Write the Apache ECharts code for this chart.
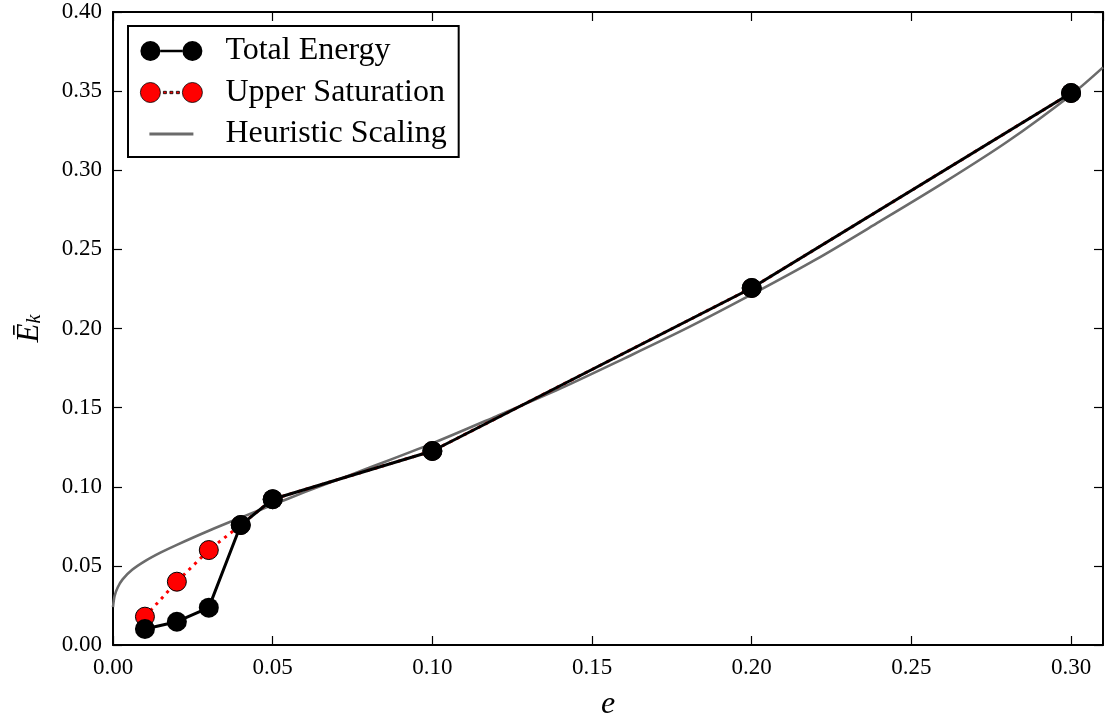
<!DOCTYPE html>
<html>
<head>
<meta charset="utf-8">
<script src="https://cdn.jsdelivr.net/npm/echarts@6/dist/echarts.min.js"></script>
<style>
html,body{margin:0;padding:0;background:#fff;}
#chart{width:1105px;height:720px;}
</style>
</head>
<body>
<div id="chart"></div>
<script>
// ---- data ----
var eValues = [0.01, 0.02, 0.03, 0.04, 0.05, 0.10, 0.20, 0.30];
var totalEnergy = [0.0101, 0.0147, 0.0236, 0.0758, 0.0921, 0.1226, 0.2256, 0.3488];
var upperSaturation = [0.0179, 0.0400, 0.0600, 0.0758, 0.0921, 0.1226, 0.2256, 0.3488];
var heurE = [0, 0.0005, 0.0015, 0.003, 0.006, 0.01, 0.015, 0.02, 0.03, 0.04, 0.05, 0.06, 0.07, 0.08, 0.10, 0.12, 0.14, 0.16, 0.18, 0.20, 0.22, 0.24, 0.26, 0.28, 0.30, 0.31];
var heurVal = [0.024, 0.031, 0.0365, 0.0415, 0.0475, 0.0530, 0.0585, 0.0633, 0.0722, 0.0805, 0.0886, 0.0966, 0.1042, 0.1118, 0.1274, 0.1445, 0.162, 0.181, 0.2005, 0.2215, 0.2435, 0.2675, 0.2920, 0.3180, 0.3476, 0.3650];
var seriesNames = ['Total Energy', 'Upper Saturation', 'Heuristic Scaling'];
var xTicks = {min: 0, max: 0.31, interval: 0.05};
var yTicks = {min: 0, max: 0.40, interval: 0.05};

function pairs(xs, ys) { return xs.map(function (x, i) { return [x, ys[i]]; }); }

var FONT = '"Liberation Serif", "DejaVu Serif", serif';
var circ = function (cx) { return 'M' + (cx - 10) + ',10 a10,10 0 1,0 20,0 a10,10 0 1,0 -20,0 '; };
var iconTotal = 'path://' + circ(10) + circ(52) + 'M20,8.7 L42,8.7 L42,11.3 L20,11.3 Z';
var iconUpper = 'path://' + circ(10) + circ(52) + 'M23,8.8 L26,8.8 L26,11.2 L23,11.2 Z M29.5,8.8 L32.5,8.8 L32.5,11.2 L29.5,11.2 Z M36,8.8 L39,8.8 L39,11.2 L36,11.2 Z';
var iconHeur = 'path://M0,0 M9,8.6 L53,8.6 L53,11.4 L9,11.4 Z M62,20';

var chart = echarts.init(document.getElementById('chart'), null, {renderer: 'canvas'});
var axisLineStyle = {color: '#000', width: 2};
var tickStyle = {show: true, inside: false, length: -9, lineStyle: {color: '#000', width: 1.2}};
var option = {
  animation: false,
  backgroundColor: '#fff',
  grid: {left: 113, right: 2, top: 12, bottom: 75, containLabel: false, outerBoundsMode: 'none'},
  legend: {
    orient: 'vertical',
    left: 128, top: 26,
    padding: [9, 12, 7, 12],
    itemGap: 9.5,
    itemWidth: 62, itemHeight: 20,
    borderColor: '#000', borderWidth: 2, borderRadius: 0,
    backgroundColor: '#fff',
    textStyle: {fontFamily: FONT, fontSize: 32, color: '#000', lineHeight: 32, padding: [0, 0, 0, 18]},
    data: [
      {name: seriesNames[0], icon: iconTotal, itemStyle: {color: '#000', borderWidth: 0}},
      {name: seriesNames[1], icon: iconUpper, itemStyle: {color: '#ff0000', borderColor: '#000', borderWidth: 0.8}},
      {name: seriesNames[2], icon: iconHeur, itemStyle: {color: '#6b6b6b', borderWidth: 0}}
    ]
  },
  xAxis: [{
    type: 'value', min: xTicks.min, max: xTicks.max, interval: xTicks.interval,
    name: 'e', nameLocation: 'middle', nameGap: 44,
    nameTextStyle: {fontFamily: FONT, fontStyle: 'italic', fontSize: 32, color: '#000'},
    axisLine: {show: true, onZero: false, lineStyle: axisLineStyle},
    axisTick: tickStyle,
    axisLabel: {fontFamily: FONT, fontSize: 23, color: '#000', margin: 11,
      formatter: function (v) { return v.toFixed(2); }},
    splitLine: {show: false}
  }, {
    type: 'value', position: 'top', min: xTicks.min, max: xTicks.max, interval: xTicks.interval,
    axisLine: {show: true, onZero: false, lineStyle: axisLineStyle},
    axisTick: tickStyle,
    axisLabel: {show: false}, splitLine: {show: false}
  }],
  yAxis: [{
    type: 'value', min: yTicks.min, max: yTicks.max, interval: yTicks.interval,
    name: '{e|Ē}{k|k}', nameLocation: 'middle', nameGap: 68, nameRotate: 90,
    nameTextStyle: {
      fontFamily: FONT, color: '#000',
      rich: {
        e: {fontFamily: FONT, fontStyle: 'italic', fontSize: 31, lineHeight: 36, verticalAlign: 'bottom', color: '#000'},
        k: {fontFamily: FONT, fontStyle: 'italic', fontSize: 20, lineHeight: 20, verticalAlign: 'bottom', color: '#000'}
      }
    },
    axisLine: {show: true, onZero: false, lineStyle: axisLineStyle},
    axisTick: tickStyle,
    axisLabel: {fontFamily: FONT, fontSize: 23, color: '#000', margin: 11,
      formatter: function (v) { return v.toFixed(2); }},
    splitLine: {show: false}
  }, {
    type: 'value', position: 'right', min: yTicks.min, max: yTicks.max, interval: yTicks.interval,
    axisLine: {show: true, onZero: false, lineStyle: axisLineStyle},
    axisTick: tickStyle,
    axisLabel: {show: false}, splitLine: {show: false}
  }],
  series: [
    {
      name: seriesNames[2], type: 'line', xAxisIndex: 0, yAxisIndex: 0,
      data: pairs(heurE, heurVal), showSymbol: false, symbol: 'none',
      smooth: 0.3,
      lineStyle: {color: '#6b6b6b', width: 2.6}, itemStyle: {color: '#6b6b6b'}, z: 2
    },
    {
      name: seriesNames[1], type: 'line', xAxisIndex: 0, yAxisIndex: 0,
      data: pairs(eValues, upperSaturation), symbol: 'circle', symbolSize: 19,
      lineStyle: {color: '#ff0000', width: 3, type: [3, 5]},
      itemStyle: {color: '#ff0000', borderColor: '#000', borderWidth: 1}, z: 3
    },
    {
      name: seriesNames[0], type: 'line', xAxisIndex: 0, yAxisIndex: 0,
      data: pairs(eValues, totalEnergy), symbol: 'circle', symbolSize: 20,
      lineStyle: {color: '#000', width: 3},
      itemStyle: {color: '#000', borderWidth: 0}, z: 4
    }
  ]
};
chart.setOption(option);
</script>
</body>
</html>
